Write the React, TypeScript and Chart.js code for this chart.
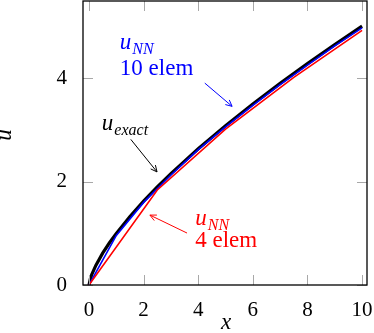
import { useEffect, useRef } from "react";
import { Chart, registerables } from "chart.js";
Chart.register(...registerables);

const exactX = [0, 0.05, 0.1, 0.25, 0.5, 0.75, 1, 1.5, 2, 2.5, 3, 4, 5, 6, 7, 8, 9, 10];
const exactU = [0, 0.123, 0.2, 0.379, 0.616, 0.818, 1, 1.328, 1.625, 1.899, 2.158, 2.639, 3.085, 3.505, 3.905, 4.287, 4.656, 5.012];
const nn10X = [0, 1, 2, 3, 4, 5, 6, 7, 8, 9, 10];
const nn10U = [0, 0.96, 1.6, 2.13, 2.62, 3.06, 3.48, 3.88, 4.26, 4.63, 4.98];
const nn4X = [0, 2.5, 5, 7.5, 10];
const nn4U = [0, 1.84, 3.02, 4.02, 4.93];
const xTicks = [0, 2, 4, 6, 8, 10];
const yTicks = [0, 2, 4];

const SERIF = "'Liberation Serif', 'DejaVu Serif', serif";

function toPts(xs: number[], ys: number[]) {
  return xs.map((x, i) => ({ x, y: ys[i] }));
}

function drawMath(ctx: CanvasRenderingContext2D, x: number, y: number, main: string, sub: string, color: string) {
  ctx.save();
  ctx.fillStyle = color;
  ctx.textAlign = "left";
  ctx.textBaseline = "alphabetic";
  ctx.font = `italic 23px ${SERIF}`;
  ctx.fillText(main, x, y);
  const w = ctx.measureText(main).width;
  ctx.font = `italic 16px ${SERIF}`;
  ctx.fillText(sub, x + w + 1, y + 5);
  ctx.restore();
}

function drawArrow(ctx: CanvasRenderingContext2D, x1: number, y1: number, x2: number, y2: number, color: string) {
  ctx.save();
  ctx.strokeStyle = color;
  ctx.lineWidth = 1;
  ctx.beginPath();
  ctx.moveTo(x1, y1);
  ctx.lineTo(x2, y2);
  ctx.stroke();
  const a = Math.atan2(y2 - y1, x2 - x1);
  const L = 7;
  ctx.beginPath();
  ctx.moveTo(x2 - L * Math.cos(a - 0.45), y2 - L * Math.sin(a - 0.45));
  ctx.lineTo(x2, y2);
  ctx.lineTo(x2 - L * Math.cos(a + 0.45), y2 - L * Math.sin(a + 0.45));
  ctx.stroke();
  ctx.restore();
}

const decor = {
  id: "decor",
  afterDraw(chart: any) {
    const ctx: CanvasRenderingContext2D = chart.ctx;
    const { left, right, top, bottom } = chart.chartArea;
    const xs = chart.scales.x;
    const ys = chart.scales.y;
    const px = (v: number) => xs.getPixelForValue(v);
    const py = (v: number) => ys.getPixelForValue(v);
    ctx.save();
    ctx.strokeStyle = "#a8a8a8";
    ctx.lineWidth = 1;
    const TL = 10;
    xTicks.forEach((t) => {
      const x = Math.round(px(t)) + 0.5;
      ctx.beginPath();
      ctx.moveTo(x, bottom);
      ctx.lineTo(x, bottom - TL);
      ctx.moveTo(x, top);
      ctx.lineTo(x, top + TL);
      ctx.stroke();
    });
    yTicks.forEach((t) => {
      const y = Math.round(py(t)) + 0.5;
      ctx.beginPath();
      ctx.moveTo(left, y);
      ctx.lineTo(left + TL, y);
      ctx.moveTo(right, y);
      ctx.lineTo(right - TL, y);
      ctx.stroke();
    });
    ctx.strokeStyle = "#000";
    ctx.lineWidth = 1.3;
    ctx.strokeRect(left, top, right - left, bottom - top);

    drawMath(ctx, px(1.13), py(4.58), "u", "NN", "#0000ff");
    ctx.fillStyle = "#0000ff";
    ctx.font = `23px ${SERIF}`;
    ctx.textAlign = "left";
    ctx.textBaseline = "alphabetic";
    ctx.fillText("10 elem", px(1.13), py(4.06));
    drawArrow(ctx, px(4.24), py(3.91), px(5.24), py(3.46), "#0000ff");

    drawMath(ctx, px(0.47), py(3.0), "u", "exact", "#000000");
    drawArrow(ctx, px(1.53), py(2.82), px(2.49), py(2.19), "#000000");

    drawMath(ctx, px(3.89), py(1.16), "u", "NN", "#ff0000");
    ctx.fillStyle = "#ff0000";
    ctx.font = `23px ${SERIF}`;
    ctx.fillText("4 elem", px(3.89), py(0.735));
    drawArrow(ctx, px(3.59), py(1.006), px(2.23), py(1.354), "#ff0000");

    ctx.fillStyle = "#000";
    ctx.font = `italic 23px ${SERIF}`;
    ctx.textAlign = "center";
    ctx.textBaseline = "alphabetic";
    ctx.fillText("x", 226, 329);
    ctx.save();
    ctx.translate(11, 135);
    ctx.rotate(-Math.PI / 2);
    ctx.fillText("u", 0, 0);
    ctx.restore();
    ctx.restore();
  },
};

export default function App() {
  const ref = useRef<HTMLCanvasElement>(null);
  useEffect(() => {
    if (!ref.current) return;
    const chart = new Chart(ref.current, {
      type: "line",
      data: {
        datasets: [
          {
            label: "u_exact",
            data: toPts(exactX, exactU),
            borderColor: "#000000",
            borderWidth: 3.2,
            pointRadius: 0,
            tension: 0,
            order: 3,
          },
          {
            label: "u_NN 10 elem",
            data: toPts(nn10X, nn10U),
            borderColor: "#0000ff",
            borderWidth: 1.6,
            pointRadius: 0,
            tension: 0,
            order: 2,
          },
          {
            label: "u_NN 4 elem",
            data: toPts(nn4X, nn4U),
            borderColor: "#ff0000",
            borderWidth: 1.6,
            pointRadius: 0,
            tension: 0,
            order: 1,
          },
        ],
      },
      options: {
        animation: false,
        responsive: false,
        devicePixelRatio: 1,
        layout: { padding: { top: 1, right: 7, left: 0, bottom: 0 } },
        plugins: { legend: { display: false }, tooltip: { enabled: false } },
        scales: {
          x: {
            type: "linear",
            min: -0.22,
            max: 10.18,
            grid: { display: false },
            border: { display: false },
            afterBuildTicks: (s: any) => {
              s.ticks = xTicks.map((v) => ({ value: v }));
            },
            afterFit: (s: any) => {
              s.height = 48;
              s.paddingLeft = 0;
              s.paddingRight = 0;
            },
            ticks: {
              font: { family: SERIF, size: 21 },
              color: "#000",
              padding: 5,
              maxRotation: 0,
              autoSkip: false,
            },
          },
          y: {
            type: "linear",
            min: 0,
            max: 5.5,
            grid: { display: false },
            border: { display: false },
            afterBuildTicks: (s: any) => {
              s.ticks = yTicks.map((v) => ({ value: v }));
            },
            afterFit: (s: any) => {
              s.width = 83;
              s.paddingTop = 0;
              s.paddingBottom = 0;
            },
            ticks: {
              font: { family: SERIF, size: 21 },
              color: "#000",
              padding: 8,
              autoSkip: false,
            },
          },
        },
      },
      plugins: [decor],
    });
    return () => chart.destroy();
  }, []);
  return (
    <div style={{ position: "absolute", left: 0, top: 0, width: 374, height: 333, background: "#fff" }}>
      <canvas ref={ref} width={374} height={333} style={{ width: 374, height: 333 }} />
    </div>
  );
}
